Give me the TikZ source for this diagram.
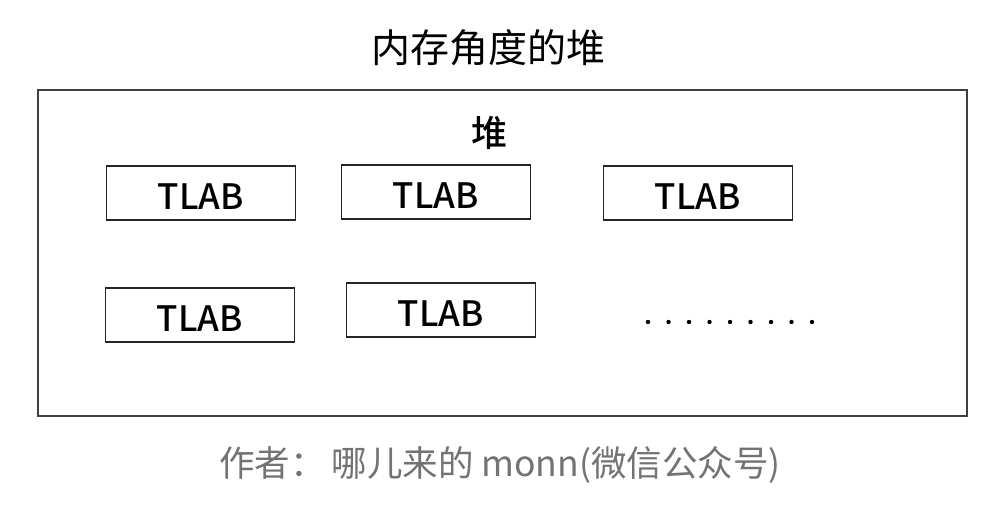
\documentclass[tikz,border=0pt]{standalone}
\usepackage{fontspec}
\setmainfont{Noto Sans CJK SC}
\newfontfamily\medium{Noto Sans CJK SC Medium}
\usetikzlibrary{positioning}
\tikzset{
	tlab/.style={draw=black!85, line width=1.4pt, minimum width=189pt, minimum height=54pt,
		inner sep=0pt, text height=33pt, text depth=0pt, font=\fontsize{35}{38}\selectfont\medium},
	heap/.style={draw=black!75, line width=1.2pt},
}

\begin{document}
\begin{tikzpicture}[x=1pt,y=-1pt]
\useasboundingbox[fill=white] (0,0) rectangle (1004,510);
\node[font=\fontsize{39}{42}\selectfont] (title) at (488,48) {内存角度的堆};
\draw[heap] (38,90) rectangle (967,416);
\node[font=\fontsize{36}{40}\selectfont\medium] (dui) at (489,133) {堆};
\node[tlab] (t1) at (201,193) {TLAB};
\node[tlab] (t2) at (436,192) {TLAB};
\node[tlab] (t3) at (698,193) {TLAB};
\node[tlab] (t4) at (200,315) {TLAB};
\node[tlab] (t5) at (441,310) {TLAB};
\foreach \i in {0,...,8}
	\fill (648+\i*20.5,322) circle (2.2pt);
\node[font=\fontsize{35.5}{38}\selectfont, text=black!55] (author) at (500,465) {作者：\,哪儿来的 monn(微信公众号)};
\end{tikzpicture}
\end{document}
